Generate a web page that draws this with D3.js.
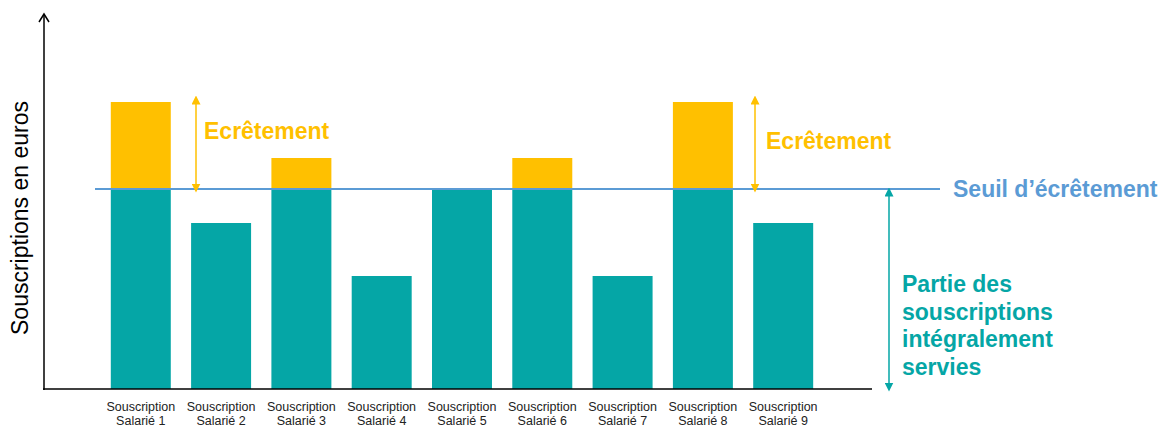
<!DOCTYPE html>
<html><head><meta charset="utf-8">
<script src="https://cdn.jsdelivr.net/npm/d3@7"></script>
<style>body{margin:0;background:#fff}svg{display:block}text{font-family:"Liberation Sans",Arial,sans-serif}</style>
</head><body><svg id="c" width="1165" height="428"></svg>
<script>
const categories = ["Salarié 1","Salarié 2","Salarié 3","Salarié 4","Salarié 5","Salarié 6","Salarié 7","Salarié 8","Salarié 9"];
const subscriptions = [143.5, 83, 115.5, 56.5, 100, 115.5, 56.5, 143.5, 83];
const threshold = 100;
const tickPrefix = "Souscription";
const yTitle = "Souscriptions en euros";
const servedLabel = ["Partie des","souscriptions","intégralement","servies"];

const teal = "#05a6a6", orange = "#ffc000", blue = "#5b9bd5";
const svg = d3.select("#c");
const x = d3.scaleBand().domain(categories).range([100.64, 823.34]).paddingInner(0.253).paddingOuter(0.1265);
const y = d3.scaleLinear().domain([0, threshold]).range([389, 189]);

const defs = svg.append("defs");
function head(id, color){
  defs.append("marker").attr("id", id).attr("viewBox","0 0 10 10").attr("refX",5).attr("refY",5)
    .attr("markerWidth",9).attr("markerHeight",9).attr("markerUnits","userSpaceOnUse").attr("orient","auto-start-reverse")
    .append("path").attr("d","M0,0L10,5L0,10Z").attr("fill",color);
}
head("ho", orange); head("ht", teal);

const data = categories.map((c,i)=>({c, v: subscriptions[i]}));
svg.append("g").selectAll("rect").data(data).join("rect")
  .attr("x", d=>x(d.c)).attr("width", x.bandwidth())
  .attr("y", d=>y(Math.min(d.v, threshold))).attr("height", d=>y(0)-y(Math.min(d.v, threshold)))
  .attr("fill", teal);
svg.append("g").selectAll("rect").data(data.filter(d=>d.v>threshold)).join("rect")
  .attr("x", d=>x(d.c)).attr("width", x.bandwidth())
  .attr("y", d=>y(d.v)).attr("height", d=>y(threshold)-y(d.v))
  .attr("fill", orange);

// axes
svg.append("line").attr("x1",44).attr("x2",44).attr("y1",y(0)+1).attr("y2",14).attr("stroke","#000").attr("stroke-width",1.5);
svg.append("path").attr("d","M39,22L44,14L49,22").attr("fill","none").attr("stroke","#000").attr("stroke-width",1.5);
svg.append("line").attr("x1",43).attr("x2",872).attr("y1",y(0)).attr("y2",y(0)).attr("stroke","#000").attr("stroke-width",1.5);

// x labels
const tl = svg.append("g").selectAll("text").data(categories).join("text")
  .attr("x", d=>x(d)+x.bandwidth()/2).attr("text-anchor","middle").attr("font-size","12.5px").attr("fill","#222");
tl.append("tspan").attr("x", d=>x(d)+x.bandwidth()/2).attr("y",411).text(tickPrefix);
tl.append("tspan").attr("x", d=>x(d)+x.bandwidth()/2).attr("y",425).text(d=>d);

// threshold line
svg.append("line").attr("x1",95).attr("x2",940).attr("y1",y(threshold)).attr("y2",y(threshold)).attr("stroke",blue).attr("stroke-width",2);
svg.append("text").attr("x",953).attr("y",y(threshold)+8).attr("font-size","23px").attr("font-weight","bold").attr("fill",blue).text("Seuil d\u2019écrêtement");

// écrêtement arrows
const maxV = d3.max(subscriptions);
[[categories[0],196,204,139],[categories[7],755,766,149]].forEach(([c,ax,tx,ty])=>{
  svg.append("line").attr("x1",ax).attr("x2",ax).attr("y1",y(maxV)-2).attr("y2",y(threshold)-1)
    .attr("stroke",orange).attr("stroke-width",1.5).attr("marker-start","url(#ho)").attr("marker-end","url(#ho)");
  svg.append("text").attr("x",tx).attr("y",ty).attr("font-size","23px").attr("font-weight","bold").attr("fill",orange).text("Ecrêtement");
});

// served arrow
svg.append("line").attr("x1",889).attr("x2",889).attr("y1",y(threshold)+3).attr("y2",y(0)-2)
  .attr("stroke",teal).attr("stroke-width",1.5).attr("marker-start","url(#ht)").attr("marker-end","url(#ht)");
svg.append("g").selectAll("text").data(servedLabel).join("text")
  .attr("x",902).attr("y",(d,i)=>292+i*27.5).attr("font-size","23px").attr("font-weight","bold").attr("fill",teal).text(d=>d);

// y title
svg.append("text").attr("transform","translate(28,218) rotate(-90)").attr("text-anchor","middle").attr("font-size","23px").attr("fill","#000").text(yTitle);
</script></body></html>
